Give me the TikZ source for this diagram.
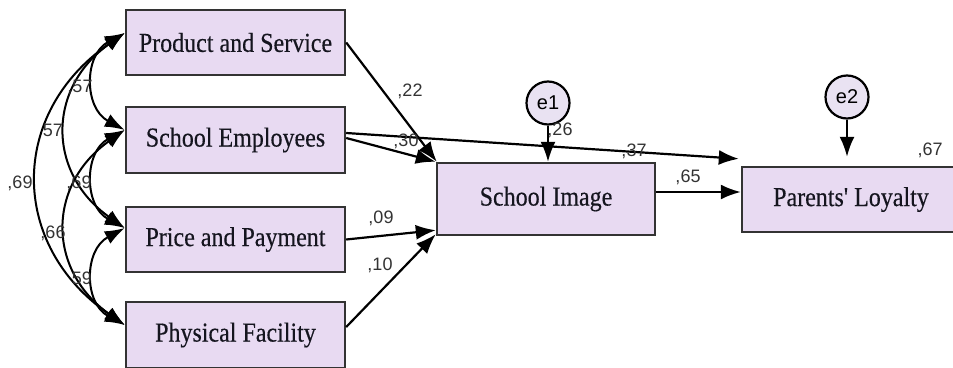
\documentclass[tikz,border=0pt]{standalone}
\usepackage{fontspec}
\newfontfamily\boxfont{Liberation Serif}[FakeBold=0.4]
\newfontfamily\labfont{Liberation Sans}
\usetikzlibrary{arrows.meta,calc}
\definecolor{boxfill}{HTML}{E8DAF2}
\definecolor{circfill}{HTML}{E9E2F2}
\definecolor{boxline}{HTML}{333333}
\definecolor{txt}{HTML}{15151F}
\newcommand{\tall}[1]{\scalebox{1}[1.14]{#1}}
\tikzset{
  varbox/.style={draw=boxline, line width=2.4pt, fill=boxfill, minimum width=219pt, minimum height=65pt, inner sep=0pt, text=txt, font=\boxfont\fontsize{24}{28}\selectfont},
  errc/.style={circle, draw=black, line width=2.2pt, fill=circfill, minimum size=43pt, inner sep=0pt, font=\labfont\fontsize{20}{24}\selectfont},
  arr/.style={-{Latex[length=20pt,width=15pt]}, line width=2.2pt},
  cov/.style={{Latex[length=20pt,width=14pt]}-{Latex[length=20pt,width=14pt]}, line width=2pt},
  coef/.style={inner sep=0pt, text=black!80, font=\labfont\fontsize{18}{21}\selectfont}
}
\begin{document}
\begin{tikzpicture}[x=1pt,y=-1pt]
\useasboundingbox (0,0) rectangle (953,367);
\clip (0,0) rectangle (953,367);
% boxes
\node[varbox] (ps) at (235.5,42.5) {\tall{Product and Service}};
\node[varbox, minimum height=66pt] (se) at (235.5,140) {\tall{School Employees}};
\node[varbox] (pp) at (235.5,239.5) {\tall{Price and Payment}};
\node[varbox, minimum height=66pt] (pf) at (235.5,335) {\tall{Physical Facility}};
\node[varbox, minimum width=218pt, minimum height=72pt] (si) at (546,199) {\tall{School Image}};
\node[varbox, minimum width=218pt] (pl) at (851,199.5) {\tall{Parents' Loyalty}};
\node[errc] (e1) at (548,103) {e1};
\node[errc] (e2) at (847,97) {e2};
% paths
\draw[arr] (ps.east) -- ([xshift=1pt]si.north west);
\draw[arr] ([yshift=2pt]se.east) -- (si.north west);
\draw[arr] ([yshift=7pt]se.east) -- ([xshift=-2pt,yshift=7pt]pl.north west);
\draw[arr] (pp.east) -- ([yshift=6pt]si.south west);
\draw[arr] ([yshift=8pt]pf.east) -- ([yshift=2pt]si.south west);
\draw[arr] ([yshift=7pt]si.east) -- ([yshift=7.5pt]pl.west);
\draw[arr] (e1.south) -- (e1 |- si.north);
\draw[arr] (e2.south) -- ([yshift=9pt]e2 |- pl.north);
% covariances
\coordinate (a1) at ([yshift=9.5pt]ps.west);
\coordinate (a2) at ([yshift=10pt]se.west);
\coordinate (a3) at ([yshift=11.5pt]pp.west);
\coordinate (a4) at ([yshift=10pt]pf.west);
\draw[cov] (a1) .. controls +(-41,22) and +(-41,-22) .. (a2);
\draw[cov] (a2) .. controls +(-41,22) and +(-41,-22) .. (a3);
\draw[cov] (a3) .. controls +(-41,22) and +(-41,-22) .. (a4);
\draw[cov] (a1) .. controls +(-78,55) and +(-78,-55) .. (a3);
\draw[cov] (a2) .. controls +(-78,55) and +(-78,-55) .. (a4);
\draw[cov] (a1) .. controls +(-116,80) and +(-116,-80) .. (a4);
% coefficients
\node[coef] (c1) at (410,91) {,22};
\node[coef] (c2) at (406,141) {,30};
\node[coef] (c3) at (560,130) {,26};
\node[coef] (c4) at (634,151) {,37};
\node[coef] (c5) at (688,177) {,65};
\node[coef] (c6) at (381,218) {,09};
\node[coef] (c7) at (380,265) {,10};
\node[coef] (c8) at (930,150) {,67};
\node[coef] (k1) at (80,87) {,57};
\node[coef] (k2) at (53,130) {57};
\node[coef] (k3) at (20,183) {,69};
\node[coef] (k4) at (79,183) {,69};
\node[coef] (k5) at (53,233) {,66};
\node[coef] (k6) at (82,278) {59};
\end{tikzpicture}
\end{document}
